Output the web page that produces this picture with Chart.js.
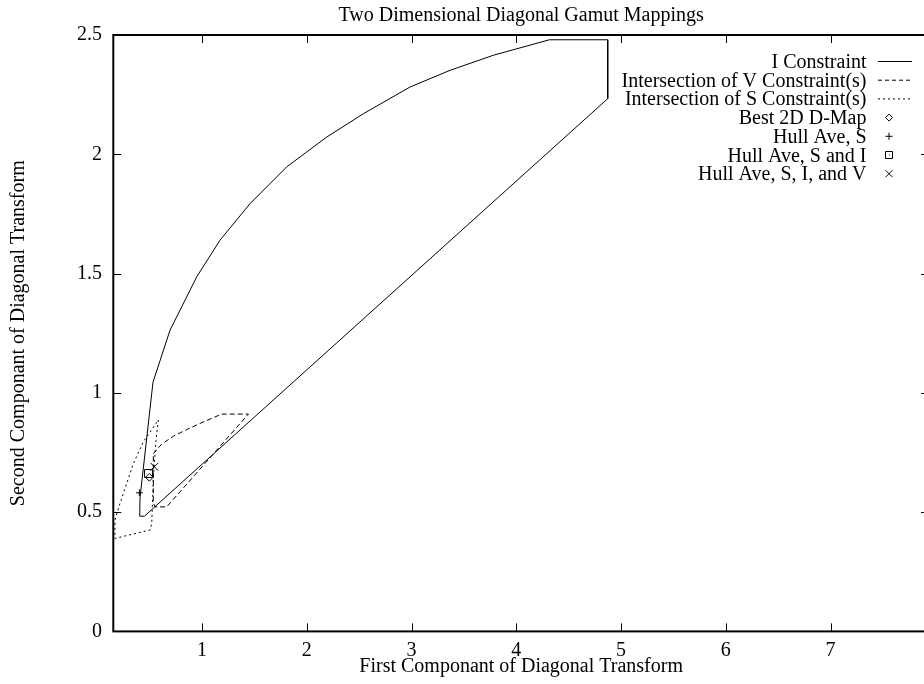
<!DOCTYPE html>
<html>
<head>
<meta charset="utf-8">
<script src="https://cdn.jsdelivr.net/npm/chart.js@4/dist/chart.umd.min.js"></script>
<style>
  html, body { margin: 0; padding: 0; background: #fff; overflow: hidden; }
  #wrap { width: 940px; height: 684px; }
</style>
</head>
<body>
<div id="wrap"><canvas id="chart"></canvas></div>
<script>
// values
const iConstraintX = [0.405, 0.408, 0.532, 0.695, 0.949, 1.172, 1.458, 1.808, 2.19, 2.54, 2.986, 3.368, 3.781, 4.316, 4.873, 4.873, 0.45, 0.405];
const iConstraintY = [0.483, 0.56, 1.045, 1.263, 1.486, 1.64, 1.793, 1.947, 2.072, 2.17, 2.282, 2.352, 2.415, 2.48, 2.48, 2.233, 0.483, 0.483];

const vConstraintX = [0.535, 0.615, 0.726, 0.854, 0.981, 1.188, 1.443, 0.663, 0.551, 0.535, 0.535];
const vConstraintY = [0.745, 0.785, 0.818, 0.846, 0.872, 0.911, 0.911, 0.522, 0.522, 0.54, 0.745];

const sConstraintX = [0.583, 0.56, 0.536, 0.52, 0.504, 0.169, 0.169, 0.217, 0.345, 0.44, 0.583];
const sConstraintY = [0.886, 0.8, 0.648, 0.453, 0.425, 0.39, 0.467, 0.537, 0.704, 0.795, 0.886];

const bestMap = [0.497, 0.646];
const hullS = [0.402, 0.581];
const hullSI = [0.489, 0.662];
const hullSIV = [0.545, 0.69];

const xTicks = [1, 2, 3, 4, 5, 6, 7];
const yTicks = [0, 0.5, 1, 1.5, 2, 2.5];
const yTickLabels = ['0', '0.5', '1', '1.5', '2', '2.5'];

const seriesLabels = [
  'I Constraint',
  'Intersection of V Constraint(s)',
  'Intersection of S Constraint(s)',
  'Best 2D D-Map',
  'Hull Ave, S',
  'Hull Ave, S and I',
  'Hull Ave, S, I, and V'
];

const pts = (xs, ys) => xs.map((x, i) => ({ x: x, y: ys[i] }));
const FONT = '"Liberation Serif", "Times New Roman", serif';

function lineSet(label, xs, ys, dash) {
  return {
    label: label,
    data: pts(xs, ys),
    showLine: true,
    borderColor: '#000',
    borderWidth: 1,
    borderDash: dash,
    pointRadius: 0,
    fill: false,
    tension: 0
  };
}

function pointSet(label, p, style, r) {
  return {
    label: label,
    data: [{ x: p[0], y: p[1] }],
    pointStyle: style,
    pointRadius: r,
    borderColor: '#000',
    backgroundColor: 'rgba(0,0,0,0)',
    borderWidth: 1
  };
}

// gnuplot-like frame with inward ticks on all four sides
const framePlugin = {
  id: 'frame',
  afterDraw(chart) {
    const { ctx, chartArea: a, scales } = chart;
    ctx.save();
    ctx.strokeStyle = '#000';
    ctx.lineWidth = 1;
    ctx.beginPath();
    scales.x.ticks.forEach(t => {
      const px = Math.round(scales.x.getPixelForValue(t.value)) + 0.5;
      ctx.moveTo(px, a.bottom); ctx.lineTo(px, a.bottom - 8);
      ctx.moveTo(px, a.top); ctx.lineTo(px, a.top + 8);
    });
    scales.y.ticks.forEach(t => {
      const py = Math.round(scales.y.getPixelForValue(t.value)) + 0.5;
      ctx.moveTo(a.left, py); ctx.lineTo(a.left + 8, py);
      ctx.moveTo(a.right, py); ctx.lineTo(a.right - 8, py);
    });
    ctx.stroke();
    ctx.lineWidth = 2;
    ctx.strokeRect(a.left, a.top, a.right - a.left, a.bottom - a.top);
    ctx.restore();
  }
};

// key in the upper right, text right aligned, sample to the right
const keyPlugin = {
  id: 'key',
  afterDraw(chart) {
    const ctx = chart.ctx;
    const textRight = 866.5, lineL = 878, lineR = 912, markX = 889;
    ctx.save();
    ctx.fillStyle = '#000';
    ctx.strokeStyle = '#000';
    ctx.lineWidth = 1;
    ctx.font = '20px ' + FONT;
    ctx.textAlign = 'right';
    ctx.textBaseline = 'alphabetic';
    chart.data.datasets.forEach((ds, i) => {
      const base = 68 + i * 18.7;
      ctx.fillText(ds.label, textRight, base);
      const cy = base - 6.5;
      ctx.beginPath();
      if (ds.showLine) {
        ctx.setLineDash(i === 1 ? [4, 3] : i === 2 ? [2, 3] : []);
        ctx.moveTo(lineL, cy); ctx.lineTo(lineR, cy);
        ctx.stroke();
        ctx.setLineDash([]);
      } else {
        const s = ds.pointStyle;
        if (s === 'rectRot') {
          ctx.moveTo(markX, cy - 3.5); ctx.lineTo(markX + 3.5, cy);
          ctx.lineTo(markX, cy + 3.5); ctx.lineTo(markX - 3.5, cy); ctx.closePath();
        } else if (s === 'cross') {
          ctx.moveTo(markX - 3.5, cy); ctx.lineTo(markX + 3.5, cy);
          ctx.moveTo(markX, cy - 3.5); ctx.lineTo(markX, cy + 3.5);
        } else if (s === 'rect') {
          ctx.rect(markX - 3.5, cy - 3.5, 7, 7);
          ctx.moveTo(markX, cy); ctx.lineTo(markX + 0.8, cy);
        } else {
          ctx.moveTo(markX - 3.5, cy - 3.5); ctx.lineTo(markX + 3.5, cy + 3.5);
          ctx.moveTo(markX - 3.5, cy + 3.5); ctx.lineTo(markX + 3.5, cy - 3.5);
        }
        ctx.stroke();
      }
    });
    ctx.restore();
  }
};

new Chart(document.getElementById('chart'), {
  type: 'scatter',
  data: {
    datasets: [
      lineSet(seriesLabels[0], iConstraintX, iConstraintY, []),
      lineSet(seriesLabels[1], vConstraintX, vConstraintY, [5, 3]),
      lineSet(seriesLabels[2], sConstraintX, sConstraintY, [2, 3]),
      pointSet(seriesLabels[3], bestMap, 'rectRot', 3.9),
      pointSet(seriesLabels[4], hullS, 'cross', 3.4),
      pointSet(seriesLabels[5], hullSI, 'rect', 5.6),
      pointSet(seriesLabels[6], hullSIV, 'crossRot', 5.5)
    ]
  },
  options: {
    responsive: true,
    maintainAspectRatio: false,
    animation: false,
    events: [],
    layout: { padding: { left: 0, right: 11, top: 0, bottom: 0 } },
    plugins: {
      legend: { display: false },
      tooltip: { enabled: false },
      title: {
        display: true,
        fullSize: false,
        text: 'Two Dimensional Diagonal Gamut Mappings',
        color: '#000',
        font: { family: FONT, size: 20, weight: 'normal', lineHeight: 1.2 },
        padding: { top: 4, bottom: 7 }
      }
    },
    scales: {
      x: {
        type: 'linear',
        min: 0.153,
        max: 7.94,
        grid: { display: false, drawTicks: false },
        border: { display: false },
        afterBuildTicks: s => { s.ticks = xTicks.map(v => ({ value: v })); },
        afterFit: s => { s.height = 52.6; },
        ticks: {
          color: '#000',
          padding: 7.5,
          maxRotation: 0,
          font: { family: FONT, size: 20, lineHeight: 1.2 },
          callback: v => String(v)
        },
        title: {
          display: true,
          text: 'First Componant of Diagonal Transform',
          color: '#000',
          font: { family: FONT, size: 20, lineHeight: 1.2 },
          padding: { top: 0, bottom: 5 }
        }
      },
      y: {
        type: 'linear',
        min: 0,
        max: 2.5,
        grid: { display: false, drawTicks: false },
        border: { display: false },
        afterBuildTicks: s => { s.ticks = yTicks.map(v => ({ value: v })); },
        afterFit: s => { s.width = 113.3; },
        ticks: {
          color: '#000',
          padding: 11.3,
          font: { family: FONT, size: 20 },
          callback: (v) => yTickLabels[yTicks.indexOf(v)]
        },
        title: {
          display: true,
          text: 'Second Componant of Diagonal Transform',
          color: '#000',
          font: { family: FONT, size: 20, lineHeight: 1.2 },
          padding: { top: 6.7, bottom: 0 }
        }
      }
    }
  },
  plugins: [framePlugin, keyPlugin]
});
</script>
</body>
</html>
